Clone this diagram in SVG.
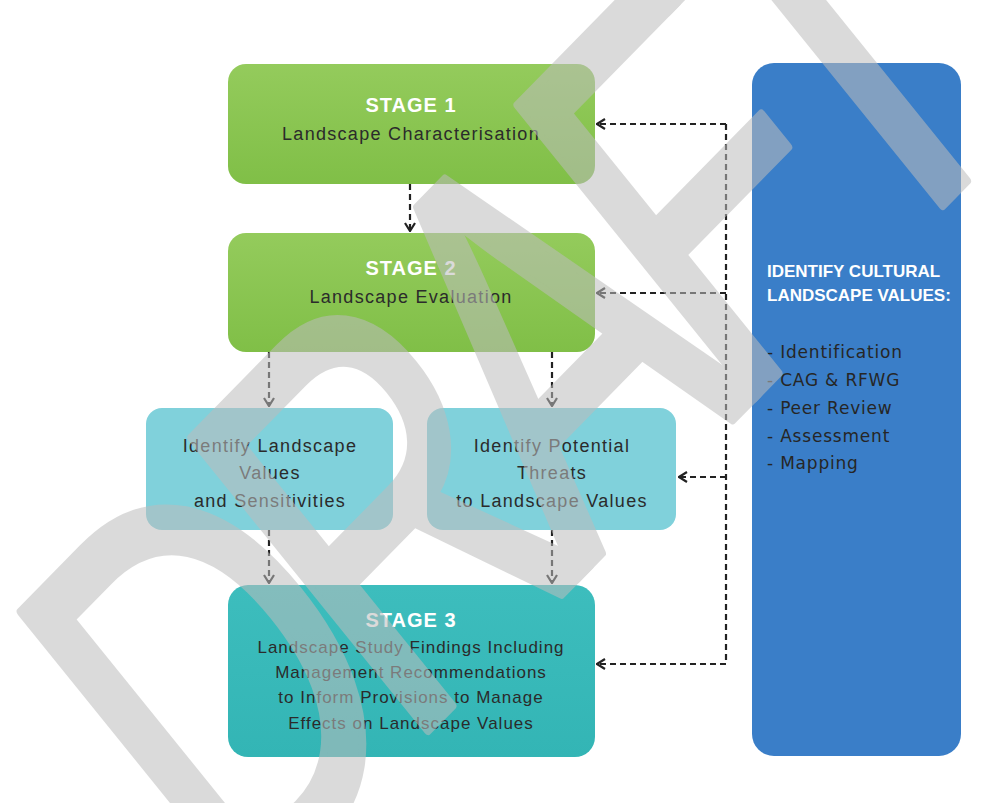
<svg xmlns="http://www.w3.org/2000/svg" width="983" height="803" viewBox="0 0 983 803">
<defs>
<linearGradient id="gGreen" x1="0" y1="0" x2="0" y2="1">
<stop offset="0" stop-color="#94cb5c"/>
<stop offset="1" stop-color="#80bf47"/>
</linearGradient>
<linearGradient id="gTeal" x1="0" y1="0" x2="0" y2="1">
<stop offset="0" stop-color="#3dbdbd"/>
<stop offset="1" stop-color="#33b5b5"/>
</linearGradient>
<marker id="chev" viewBox="0 0 10 12" refX="9" refY="6" markerWidth="10" markerHeight="12" markerUnits="userSpaceOnUse" orient="auto">
<path d="M1,1 L9,6 L1,11" fill="none" stroke="#222" stroke-width="2.2"/>
</marker>
<style>
.txt{font-family:"Liberation Sans",Arial,sans-serif;font-size:18px;fill:#2b2b2b;letter-spacing:1.3px;text-anchor:middle}
.t3{font-size:17px;letter-spacing:1px}
.stage{font-family:"Liberation Sans",Arial,sans-serif;font-size:20px;font-weight:bold;fill:#ffffff;letter-spacing:1px;text-anchor:middle}
.head{font-family:"Liberation Sans",Arial,sans-serif;font-size:17px;font-weight:bold;fill:#ffffff}
.item{font-family:"DejaVu Sans",sans-serif;font-size:17px;fill:#262626;letter-spacing:0.8px}
.dash{fill:none;stroke:#222;stroke-width:2.2;stroke-dasharray:6 4}
.wm{font-family:"Liberation Sans",Arial,sans-serif;font-weight:normal;font-size:545px;letter-spacing:-55px;fill:#bdbdbd;stroke:#bdbdbd;stroke-width:9;stroke-linejoin:round}
</style>
</defs>
<rect width="983" height="803" fill="#ffffff"/>

<g id="stage1">
<rect x="228" y="64" width="367" height="120" rx="18" fill="url(#gGreen)"/>
<text class="stage" x="411" y="112">STAGE 1</text>
<text class="txt" x="411" y="140">Landscape Characterisation</text>
</g>

<g id="stage2">
<rect x="228" y="233" width="367" height="119" rx="18" fill="url(#gGreen)"/>
<text class="stage" x="411" y="275">STAGE 2</text>
<text class="txt" x="411" y="303">Landscape Evaluation</text>
</g>

<g id="values">
<rect x="146" y="408" width="247" height="122" rx="16" fill="#80d1db"/>
<text class="txt" x="270" y="452">Identify Landscape</text>
<text class="txt" x="270" y="479">Values</text>
<text class="txt" x="270" y="507">and Sensitivities</text>
</g>

<g id="threats">
<rect x="427" y="408" width="249" height="122" rx="16" fill="#80d1db"/>
<text class="txt" x="552" y="452">Identify Potential</text>
<text class="txt" x="552" y="479">Threats</text>
<text class="txt" x="552" y="507">to Landscape Values</text>
</g>

<g id="stage3">
<rect x="228" y="585" width="367" height="172" rx="20" fill="url(#gTeal)"/>
<text class="stage" x="411" y="627">STAGE 3</text>
<text class="txt t3" x="411" y="653">Landscape Study Findings Including</text>
<text class="txt t3" x="411" y="678">Management Recommendations</text>
<text class="txt t3" x="411" y="703">to Inform Provisions to Manage</text>
<text class="txt t3" x="411" y="729">Effects on Landscape Values</text>
</g>

<g id="cultural">
<rect x="752" y="63" width="209" height="693" rx="22" fill="#3a7ec8"/>
<text class="head" x="767" y="277">IDENTIFY CULTURAL</text>
<text class="head" x="767" y="301">LANDSCAPE VALUES:</text>
<text class="item" x="767" y="358">- Identification</text>
<text class="item" x="767" y="386">- CAG &amp; RFWG</text>
<text class="item" x="767" y="414">- Peer Review</text>
<text class="item" x="767" y="442">- Assessment</text>
<text class="item" x="767" y="469">- Mapping</text>
</g>

<g id="connectors">
<path class="dash" d="M410,184 V231" marker-end="url(#chev)"/>
<path class="dash" d="M269,352 V406" marker-end="url(#chev)"/>
<path class="dash" d="M552,352 V406" marker-end="url(#chev)"/>
<path class="dash" d="M269,530 V583" marker-end="url(#chev)"/>
<path class="dash" d="M552,530 V583" marker-end="url(#chev)"/>
<path class="dash" d="M726,124 V664"/>
<path class="dash" d="M726,124 H597" marker-end="url(#chev)"/>
<path class="dash" d="M726,293 H597" marker-end="url(#chev)"/>
<path class="dash" d="M726,477 H679" marker-end="url(#chev)"/>
<path class="dash" d="M726,664 H597" marker-end="url(#chev)"/>
</g>

<g id="watermark" opacity="0.55">
<text class="wm" transform="matrix(0.504,-0.514,0.63,0.78,234,928)" x="0" y="0">DRAFT</text>
</g>
</svg>
